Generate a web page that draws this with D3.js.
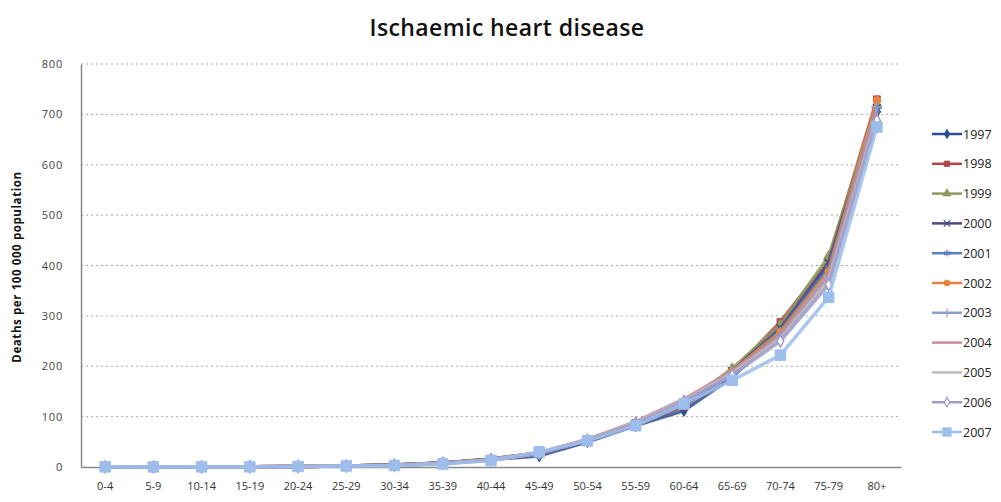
<!DOCTYPE html>
<html>
<head>
<meta charset="utf-8">
<script src="https://cdn.jsdelivr.net/npm/d3@7"></script>
<style>
  body { margin: 0; background: #fff; }
  svg { display: block; }
</style>
</head>
<body>
<svg></svg>
<script>
// chart size
let width = 1001;
let height = 502;
const svg = d3.select("svg").attr("width", width).attr("height", height);

// data
const ageGroups = ["0-4", "5-9", "10-14", "15-19", "20-24", "25-29", "30-34", "35-39", "40-44",
    "45-49", "50-54", "55-59", "60-64", "65-69", "70-74", "75-79", "80+"];
const years = ["1997", "1998", "1999", "2000", "2001", "2002", "2003", "2004", "2005", "2006", "2007"];
const yTicks = [0, 100, 200, 300, 400, 500, 600, 700, 800];

const v1997 = [0.5, 0.2, 0.3, 0.6, 1, 2, 4, 8, 15, 22, 50, 82, 112, 178, 272, 400, 705];
const v1998 = [0.4, 0.2, 0.3, 0.5, 1, 2, 4, 8, 16, 28, 52, 86, 120, 188, 288, 410, 730];
const v1999 = [0.4, 0.2, 0.3, 0.5, 1, 2, 4, 8, 16, 28, 53, 88, 125, 195, 282, 418, 718];
const v2000 = [0.3, 0.2, 0.3, 0.5, 1, 2, 4, 8, 15, 27, 52, 86, 122, 190, 275, 405, 712];
const v2001 = [0.3, 0.2, 0.3, 0.5, 1, 2, 4, 8, 15, 27, 51, 85, 124, 188, 270, 395, 708];
const v2002 = [0.3, 0.2, 0.3, 0.5, 1, 2, 4, 8, 15, 28, 53, 88, 130, 190, 268, 388, 728];
const v2003 = [0.3, 0.2, 0.3, 0.5, 1, 2, 3, 7, 15, 28, 54, 88, 132, 188, 262, 380, 715];
const v2004 = [0.3, 0.2, 0.3, 0.5, 1, 2, 3, 7, 14, 28, 55, 90, 135, 190, 258, 375, 705];
const v2005 = [0.3, 0.2, 0.3, 0.5, 1, 2, 3, 7, 14, 27, 54, 88, 132, 186, 255, 370, 695];
const v2006 = [0.3, 0.2, 0.3, 0.5, 1, 2, 3, 7, 14, 27, 53, 86, 130, 182, 250, 362, 688];
const v2007 = [0.3, 0.2, 0.3, 0.4, 1, 2, 3, 6, 13, 30, 52, 82, 125, 172, 222, 337, 675];
const seriesValues = [v1997, v1998, v1999, v2000, v2001, v2002, v2003, v2004, v2005, v2006, v2007];

// looks (Excel-ish)
const colors = ["#2f4d8e", "#b3464b", "#8c9a5e", "#4b4a86", "#5a7ebe", "#e8823e",
    "#8c9ed0", "#c98c9d", "#bdbdbd", "#9c9ccc", "#9dbdeb"];
const markers = ["diamond", "square", "triangle", "x", "star", "circle", "plus", "none", "none", "diamondOpen", "bigSquare"];

const series = years.map(function (y, i) {
    return { year: y, color: colors[i], marker: markers[i], values: seriesValues[i] };
});

// scales
const x = d3.scaleBand().domain(ageGroups).range([81, 901]);
const y = d3.scaleLinear().domain([0, 800]).range([467, 64]);
const cx = function (d, i) { return x(ageGroups[i]) + x.bandwidth() / 2; };

// gridlines
svg.append("g")
    .selectAll("line")
    .data(yTicks.filter(function (t) { return t > 0; }))
    .enter()
    .append("line")
    .attr("x1", 81).attr("x2", 901)
    .attr("y1", function (d) { return y(d); })
    .attr("y2", function (d) { return y(d); })
    .style("stroke", "#a8a8a8")
    .style("stroke-width", 1)
    .style("stroke-dasharray", "2,3");

// axes
const yAxis = svg.append("g")
    .attr("transform", "translate(81,0)")
    .call(d3.axisLeft(y).tickValues(yTicks).tickSize(0).tickPadding(18));
const xAxis = svg.append("g")
    .attr("transform", "translate(0,467)")
    .call(d3.axisBottom(x).tickSize(0).tickPadding(15));

[yAxis, xAxis].forEach(function (a) {
    a.select(".domain").style("stroke", "#8a8a8a").style("stroke-width", 1.5);
    a.selectAll("text")
        .style("font-family", "'Open Sans', sans-serif")
        .style("font-size", "11px")
        .style("fill", "#333");
});
yAxis.selectAll("text").style("letter-spacing", "0.8px").style("fill", "#444");

// lines
const line = d3.line()
    .x(function (d, i) { return cx(d, i); })
    .y(function (d) { return y(d); });

const symbolFor = {
    diamond: d3.symbol().type(d3.symbolDiamond).size(40),
    diamondOpen: d3.symbol().type(d3.symbolDiamond).size(40),
    square: d3.symbol().type(d3.symbolSquare).size(45),
    bigSquare: d3.symbol().type(d3.symbolSquare).size(110),
    triangle: d3.symbol().type(d3.symbolTriangle).size(45),
    x: d3.symbol().type(d3.symbolX).size(45),
    star: d3.symbol().type(d3.symbolAsterisk).size(50),
    circle: d3.symbol().type(d3.symbolCircle).size(45),
    plus: d3.symbol().type(d3.symbolPlus).size(40)
};

function drawMarker(g, s, px, py, scale) {
    if (s.marker === "none") return;
    let p = g.append("path")
        .attr("d", symbolFor[s.marker]())
        .attr("transform", "translate(" + px + "," + py + ") scale(" + (scale || 1) + ")");
    if (s.marker === "x" || s.marker === "star" || s.marker === "plus") {
        p.style("fill", "none").style("stroke", s.color).style("stroke-width", 1.5);
    } else if (s.marker === "diamondOpen") {
        p.style("fill", "#fff").style("stroke", s.color).style("stroke-width", 1.5);
    } else {
        p.style("fill", s.color).style("stroke", s.color).style("stroke-width", 1);
    }
}

const plot = svg.append("g").attr("id", "plot");
series.forEach(function (s) {
    let g = plot.append("g");
    g.append("path")
        .datum(s.values)
        .attr("d", line)
        .style("fill", "none")
        .style("stroke", s.color)
        .style("stroke-width", 3.5)
        .style("stroke-linejoin", "round")
        .style("opacity", 0.85);
    s.values.forEach(function (v, i) {
        drawMarker(g, s, cx(v, i), y(v));
    });
});

// legend
const legend = svg.append("g").attr("transform", "translate(932,134)");
series.forEach(function (s, i) {
    let g = legend.append("g").attr("transform", "translate(0," + (i * 29.8) + ")");
    g.append("line")
        .attr("x1", 0).attr("x2", 30)
        .style("stroke", s.color)
        .style("stroke-width", 2.5);
    drawMarker(g, s, 15, 0, 0.8);
    g.append("text")
        .attr("x", 31).attr("y", 4.5)
        .text(s.year)
        .style("font-family", "'Open Sans', sans-serif")
        .style("font-size", "12.5px")
        .style("fill", "#222");
});

// title
svg.append("text")
    .attr("x", 507).attr("y", 36)
    .attr("text-anchor", "middle")
    .text("Ischaemic heart disease")
    .style("font-family", "'Open Sans', sans-serif")
    .style("font-size", "23px")
    .style("font-weight", 600)
    .style("letter-spacing", "0.4px")
    .style("fill", "#111");

// y axis title
svg.append("text")
    .attr("transform", "translate(21,267) rotate(-90)")
    .attr("text-anchor", "middle")
    .text("Deaths per 100 000 population")
    .style("font-family", "'Open Sans', sans-serif")
    .style("font-size", "11.5px")
    .style("font-weight", 700)
    .style("letter-spacing", "0.6px")
    .style("fill", "#111");
</script>
</body>
</html>
